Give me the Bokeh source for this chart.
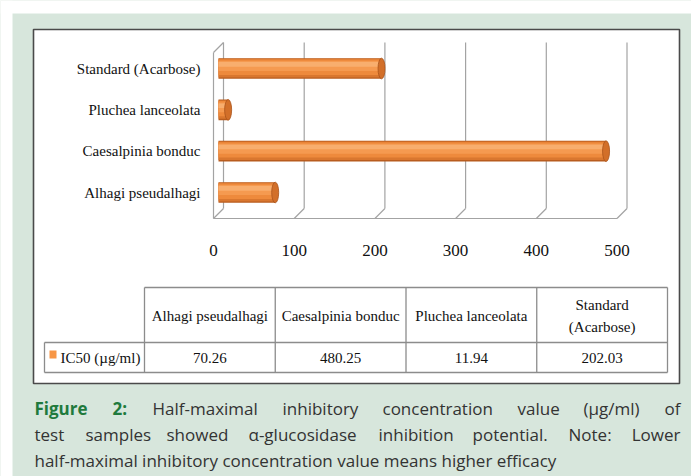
from bokeh.plotting import figure
from bokeh.models import Range1d
from bokeh.core.properties import value
from bokeh.embed import file_html
from bokeh.resources import INLINE

# ---------------- data ----------------
categories = ["Alhagi pseudalhagi", "Caesalpinia bonduc", "Pluchea lanceolata", "Standard (Acarbose)"]
ic50 = [70.26, 480.25, 11.94, 202.03]
ic50_text = ["70.26", "480.25", "11.94", "202.03"]
x_ticks = [0, 100, 200, 300, 400, 500]
x_tick_labels = ["0", "100", "200", "300", "400", "500"]
table_headers = [["Alhagi pseudalhagi"], ["Caesalpinia bonduc"], ["Pluchea lanceolata"], ["Standard", "(Acarbose)"]]
series_label = "IC50 (\u00b5g/ml)"
caption_head = ["Figure", "2:"]
caption_line1 = ["Half-maximal", "inhibitory", "concentration", "value", "(\u00b5g/ml)", "of"]
caption_line2 = ["test", "samples", "showed", "\u03b1-glucosidase", "inhibition", "potential.", "Note:", "Lower"]
caption_line3 = "half-maximal inhibitory concentration value means higher efficacy"

# ---------------- layout (page pixels) ----------------
W, H = 691, 476
OX, OY = 0, 0
GREEN = "#d7e6dc"
ORANGE = "#f79646"
GRID = "#a3a3a3"
SERIF = value("Liberation Serif")
SANS = value("Open Sans")

VAL_ZERO = 218.0   # page x of value 0 (bar plane)
VAL_PX = 0.807     # px per value unit
CAT_Y0 = 192.0     # page y of first category
CAT_STEP = 41.33   # px per category
D = 5.0 / VAL_PX   # half depth of the 3-D box in value units

p = figure(width=W, height=H,
           x_range=Range1d(OX, OX + W), y_range=Range1d(OY + H, OY),
           x_axis_type=None, y_axis_type=None,
           toolbar_location=None, output_backend="svg",
           min_border=0, background_fill_color=GREEN,
           border_fill_color=GREEN, outline_line_color=None)
p.extra_x_ranges = {"val": Range1d((OX - VAL_ZERO) / VAL_PX, (OX + W - VAL_ZERO) / VAL_PX)}
p.extra_y_ranges = {"cat": Range1d((CAT_Y0 - (OY + H)) / CAT_STEP, (CAT_Y0 - OY) / CAT_STEP)}

# white page margins (top / left of the green panel)
p.quad(left=[OX, OX], right=[12, OX + W], top=[OY, OY], bottom=[OY + H, 13],
       fill_color="white", line_color=None)

# white chart box
p.quad(left=[33], right=[679], top=[29], bottom=[383],
       fill_color="white", line_color="#4a4a4a", line_width=1.6)

# ---------------- 3-D walls ----------------
p.segment(x0=[v + D for v in x_ticks], y0=[42] * len(x_ticks),
          x1=[v + D for v in x_ticks], y1=[208] * len(x_ticks),
          x_range_name="val", line_color=GRID, line_width=1.2)
p.segment(x0=[x_ticks[0] - D, x_ticks[0] - D, x_ticks[0] - D],
          y0=[52, 52, 218],
          x1=[x_ticks[0] - D, x_ticks[0] + D, x_ticks[-1] - D],
          y1=[218, 42, 218],
          x_range_name="val", line_color=GRID, line_width=1.2)
p.segment(x0=[v - D for v in x_ticks], y0=[218] * len(x_ticks),
          x1=[v + D for v in x_ticks], y1=[208] * len(x_ticks),
          x_range_name="val", line_color=GRID, line_width=1.2)

# ---------------- cylinder bars ----------------
idx = list(range(len(categories)))
bands = [  # (y offset, height, color)
    (0.0, 0.50, "#b85c1e"),
    (0.01, 0.45, "#d9772f"),
    (0.03, 0.37, "#ee8a3c"),
    (0.06, 0.24, "#f59a50"),
    (0.10, 0.11, "#f8ae6e"),
]
for off, h, c in bands:
    p.hbar(y=[i + off for i in idx], left=0, right=ic50, height=h,
           x_range_name="val", y_range_name="cat",
           fill_color=c, line_color=None)
p.ellipse(x=ic50, y=idx, width=7, height=0.5, width_units="screen",
          x_range_name="val", y_range_name="cat",
          fill_color="#d26f29", line_color="#a9531a", line_width=0.8)

# category labels
p.text(x=[200] * len(categories), y=idx, text=categories, y_range_name="cat",
       text_font=SERIF, text_font_size="15px", text_color="#111111",
       text_align="right", text_baseline="middle")

# value tick labels
p.text(x=[v - D for v in x_ticks], y=[250] * len(x_ticks), text=x_tick_labels,
       x_range_name="val", text_font=SERIF, text_font_size="17px",
       text_color="#111111", text_align="center", text_baseline="middle")

# ---------------- data table ----------------
T_LAB, T_LEFT, COL_W = 44, 144, 130.75
T_TOP, T_MID, T_BOT = 287, 342, 372
n = len(categories)
T_RIGHT = T_LEFT + COL_W * n
col_x = [T_LEFT + COL_W * k for k in range(n + 1)]
col_c = [T_LEFT + COL_W * (k + 0.5) for k in range(n)]
p.segment(x0=[T_LEFT, T_LAB, T_LAB] + col_x + [T_LAB],
          y0=[T_TOP, T_MID, T_BOT] + [T_TOP] * (n + 1) + [T_MID],
          x1=[T_RIGHT, T_RIGHT, T_RIGHT] + col_x + [T_LAB],
          y1=[T_TOP, T_MID, T_BOT] + [T_BOT] * (n + 1) + [T_BOT],
          line_color="#8c8c8c", line_width=1.3)

hx, hy, ht = [], [], []
for k, lines in enumerate(table_headers):
    ys = [315] if len(lines) == 1 else [304, 326]
    for yy, tt in zip(ys, lines):
        hx.append(col_c[k]); hy.append(yy); ht.append(tt)
p.text(x=hx, y=hy, text=ht, text_font=SERIF, text_font_size="15px",
       text_color="#111111", text_align="center", text_baseline="middle")
p.text(x=col_c, y=[357] * n, text=ic50_text, text_font=SERIF, text_font_size="15px",
       text_color="#111111", text_align="center", text_baseline="middle")
p.rect(x=[52.5], y=[354], width=7, height=8, fill_color=ORANGE, line_color=None)
p.text(x=[60], y=[357], text=[series_label], text_font=SERIF, text_font_size="15px",
       text_color="#111111", text_align="left", text_baseline="middle")

# ---------------- caption (justified word placement) ----------------
CAP_L, CAP_R = 34, 680
CAP_Y = [408, 434, 460]
CAP_COLOR = "#333333"
FIG_GREEN = "#1f7a3d"
FS = "17px"
head_x = [CAP_L, 112]
l1_x = [152, 282, 382, 517, 583]
p.text(x=head_x, y=[CAP_Y[0]] * 2, text=caption_head, text_font=SANS, text_font_style="bold",
       text_font_size=FS, text_color=FIG_GREEN, text_align="left", text_baseline="middle")
p.text(x=l1_x, y=[CAP_Y[0]] * 5, text=caption_line1[:5], text_font=SANS,
       text_font_size=FS, text_color=CAP_COLOR, text_align="left", text_baseline="middle")
p.text(x=[CAP_R], y=[CAP_Y[0]], text=[caption_line1[5]], text_font=SANS,
       text_font_size=FS, text_color=CAP_COLOR, text_align="right", text_baseline="middle")
l2_x = [CAP_L, 85, 166, 248, 378, 472, 568]
p.text(x=l2_x, y=[CAP_Y[1]] * 7, text=caption_line2[:7], text_font=SANS,
       text_font_size=FS, text_color=CAP_COLOR, text_align="left", text_baseline="middle")
p.text(x=[CAP_R], y=[CAP_Y[1]], text=[caption_line2[7]], text_font=SANS,
       text_font_size=FS, text_color=CAP_COLOR, text_align="right", text_baseline="middle")
p.text(x=[CAP_L], y=[CAP_Y[2]], text=[caption_line3], text_font=SANS,
       text_font_size=FS, text_color=CAP_COLOR, text_align="left", text_baseline="middle")

open("out.html", "w").write(file_html(p, INLINE))
